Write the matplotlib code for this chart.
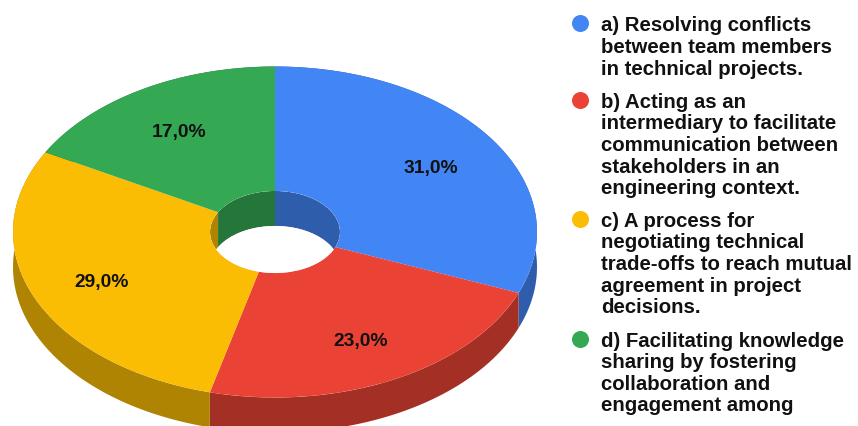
import numpy as np
import matplotlib
matplotlib.use('Agg')
import matplotlib.pyplot as plt
from matplotlib.patches import Circle

# Data
shares = [31.0, 23.0, 29.0, 17.0]
colors = ['#4285F4', '#EA4335', '#FBBC04', '#34A853']
legend_labels = [
    'a) Resolving conflicts\nbetween team members\nin technical projects.',
    'b) Acting as an\nintermediary to facilitate\ncommunication between\nstakeholders in an\nengineering context.',
    'c) A process for\nnegotiating technical\ntrade-offs to reach mutual\nagreement in project\ndecisions.',
    'd) Facilitating knowledge\nsharing by fostering\ncollaboration and\nengagement among',
]

W, H = 858, 427
CX, CY = 275, 233     # pie centre, pixels
RX, RY = 262, 165.5   # outer ellipse radii, pixels
HOLE = 0.248
DEPTH = 35 / RY
SHADE = 0.7
FONT = 'Liberation Sans'


def darker(c):
    return tuple(v * SHADE for v in matplotlib.colors.to_rgb(c))


def wall(ax, r, start, stop, color, clip=None):
    # side face of one slice: arc on the top plane and the same arc DEPTH lower
    t = np.radians(np.linspace(start, stop, 200))
    x = r * np.sin(t)
    y = r * np.cos(t)
    poly = ax.fill(np.r_[x, x[::-1]], np.r_[y, y[::-1] - DEPTH], color=color, lw=0, zorder=1)[0]
    if clip is not None:
        poly.set_clip_path(clip)
        poly.set_zorder(3)


fig = plt.figure(figsize=(W / 100, H / 100), dpi=100)

# one data unit is one pie radius, squashed in y to give the tilted look
ax = fig.add_axes([0, 0, 1, 1])
edges = np.r_[0, np.cumsum(shares)] / np.sum(shares) * 360

wedges, texts, autotexts = ax.pie(
    shares, colors=colors, startangle=90, counterclock=False, radius=1,
    wedgeprops=dict(width=1 - HOLE, lw=0, zorder=2),
    autopct=lambda p: f'{p:.1f}%'.replace('.', ','), pctdistance=0.72,
    textprops=dict(fontfamily=FONT, fontweight='bold', fontsize=13.9, color='#111111', zorder=6,
                   verticalalignment='center_baseline'),
)
ax.set_aspect('auto')
ax.set_xlim(-CX / RX, (W - CX) / RX)
ax.set_ylim((CY - H) / RY, CY / RY)
ax.axis('off')

hole = Circle((0, 0), HOLE, transform=ax.transData)
for i, c in enumerate(colors):
    wall(ax, 1, edges[i], edges[i + 1], darker(c))
    wall(ax, HOLE, edges[i], edges[i + 1], darker(c), clip=hole)

floor = Circle((0, -DEPTH), HOLE, fc='white', lw=0, zorder=4)
ax.add_patch(floor)
floor.set_clip_path(hole)

# legend, in pixel coordinates
lax = fig.add_axes([0, 0, 1, 1], facecolor='none')
lax.set_xlim(0, W)
lax.set_ylim(H, 0)
lax.axis('off')
marker_y = [24, 101, 220, 340]
text_y = [47.5, 145.5, 264.5, 373.5]
for c, label, my, ty in zip(colors, legend_labels, marker_y, text_y):
    lax.scatter([580], [my], s=150, color=c, lw=0)
    lax.text(601, ty, label, va='center', ha='left', fontfamily=FONT, fontweight='bold',
             fontsize=14.7, color='#111111', linespacing=1.168)

fig.savefig('out.png', dpi=100)
